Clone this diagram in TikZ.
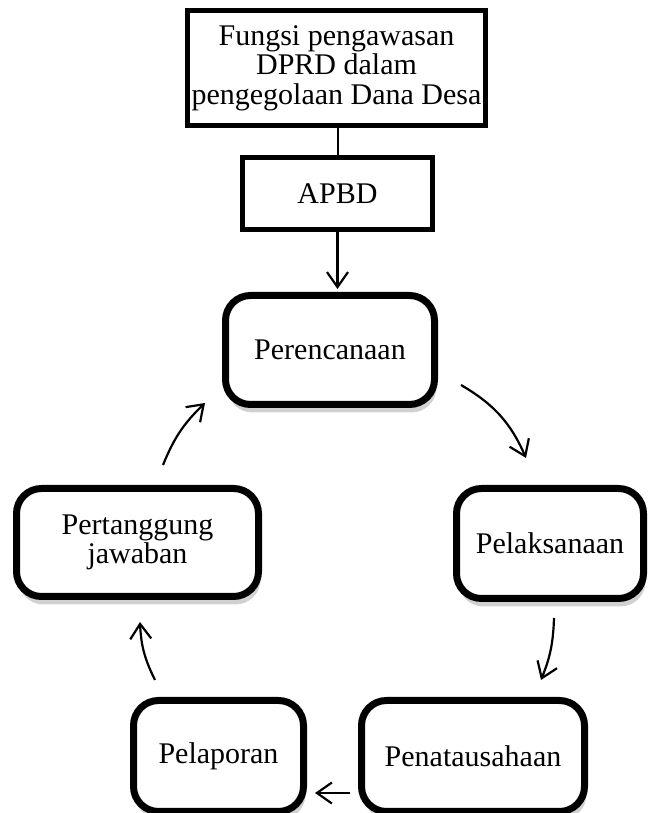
\documentclass[tikz,border=0pt]{standalone}
\usepackage{fontspec}
\setmainfont{Liberation Serif}
\usetikzlibrary{arrows.meta,shadows}
\begin{document}
\begin{tikzpicture}[x=1pt,y=1pt,
  txt/.style={font=\fontsize{30}{29.5}\selectfont, align=center, inner sep=0pt},
  sqbox/.style={txt, draw, line width=5pt, fill=white},
  rbox/.style={txt, draw, line width=7pt, rounded corners=25pt, fill=white,
    drop shadow={shadow xshift=2pt, shadow yshift=-8pt, opacity=0.18, fill=black}},
  arr/.style={line width=2.2pt, -{Straight Barb[length=15pt,width=21pt,line width=2.2pt]}},
  plain/.style={line width=2pt}
]
\useasboundingbox (0,0) rectangle (648,813);
\node[sqbox, minimum width=298, minimum height=115] (fungsi) at (336.5,745)
  {Fungsi pengawasan\\DPRD dalam\\pengegolaan  Dana Desa};
\node[sqbox, minimum width=190, minimum height=72] (apbd) at (337.5,619.5) {APBD};
\node[rbox, minimum width=209, minimum height=109] (perenc) at (330,463) {Perencanaan};
\node[rbox, minimum width=187, minimum height=110] (pelak) at (550,269.5) {Pelaksanaan};
\node[rbox, minimum width=223, minimum height=111] (penat) at (473,57) {Penatausahaan};
\node[rbox, minimum width=170, minimum height=111] (pelap) at (218.5,57) {Pelaporan};
\node[rbox, minimum width=242, minimum height=108] (pertang) at (137.5,270.5) {Pertanggung\\jawaban};

\coordinate (a1s) at (461,428); \coordinate (a1e) at (526,355);
\coordinate (a2s) at (554,195); \coordinate (a2e) at (541,133);
\coordinate (a3s) at (350,20);  \coordinate (a3e) at (315,20);
\coordinate (a4s) at (155,133); \coordinate (a4e) at (140,191);
\coordinate (a5s) at (163,348); \coordinate (a5e) at (205,410);

\draw[plain] (fungsi.south -| apbd.north) -- (apbd.north);
\draw[arr, shorten >=3pt] (apbd.south) -- (apbd.south |- perenc.north);
\draw[arr] (a1s) to[bend left=18] (a1e);
\draw[arr] (a2s) to[bend left=10] (a2e);
\draw[arr] (a3s) -- (a3e);
\draw[arr] (a4s) to[bend left=12] (a4e);
\draw[arr] (a5s) to[bend left=12] (a5e);
\end{tikzpicture}
\end{document}
